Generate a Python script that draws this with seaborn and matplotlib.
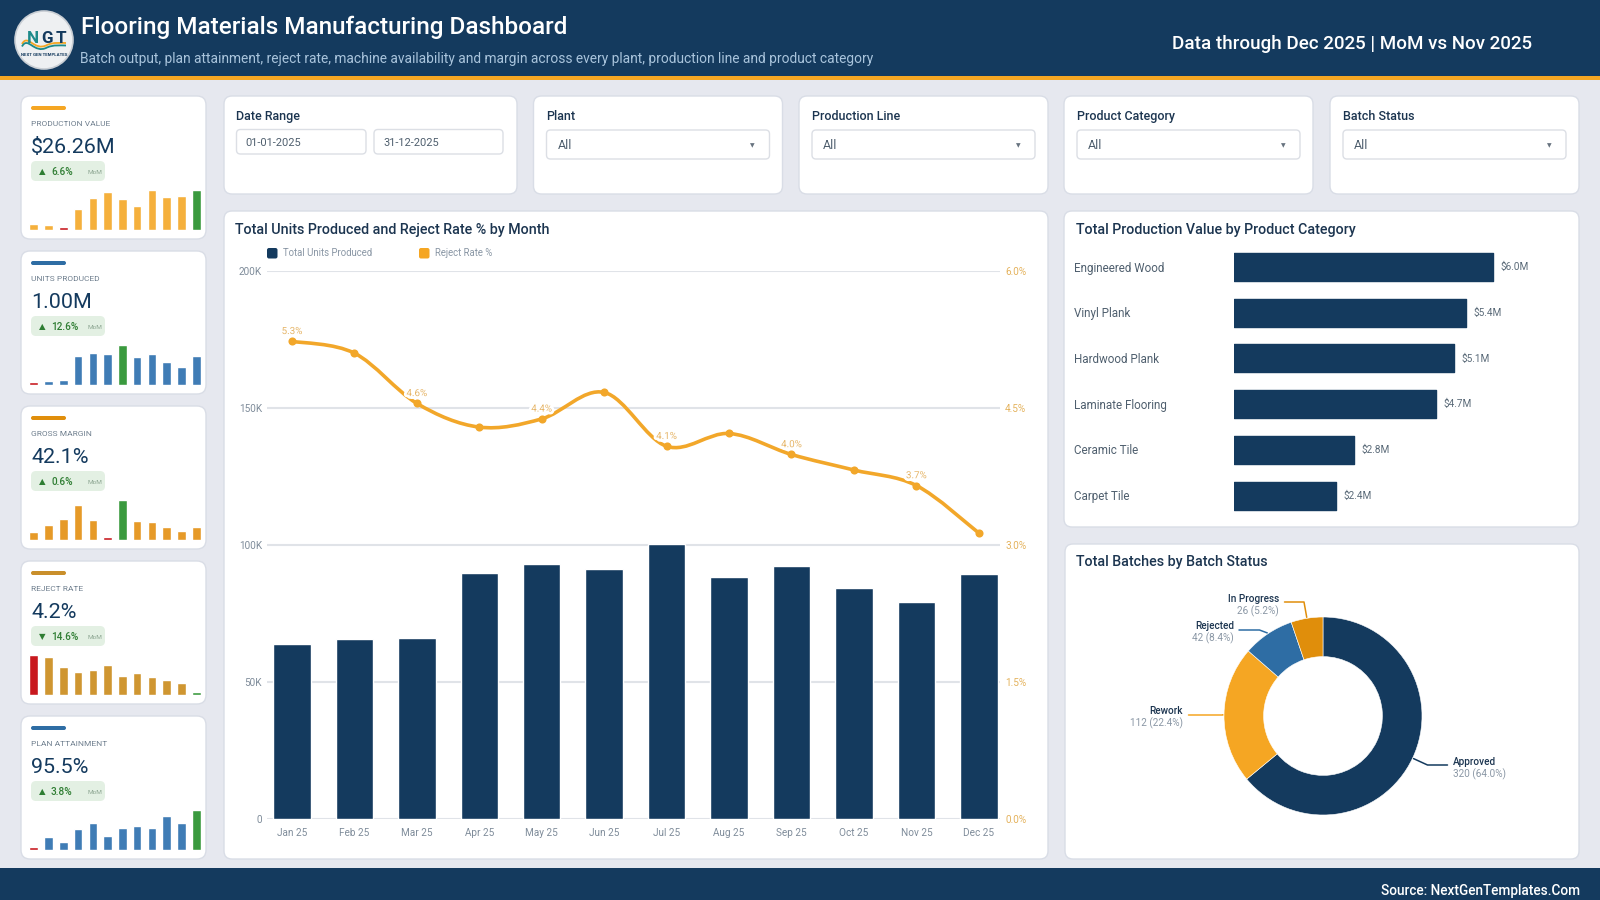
import numpy as np
import pandas as pd
import matplotlib
matplotlib.use("Agg")
import matplotlib.pyplot as plt
import seaborn as sns
from matplotlib.patches import FancyBboxPatch, Circle, PathPatch, Rectangle
from matplotlib.path import Path
import matplotlib.patheffects as pe

# data
months = ["Jan 25", "Feb 25", "Mar 25", "Apr 25", "May 25", "Jun 25", "Jul 25", "Aug 25", "Sep 25", "Oct 25", "Nov 25", "Dec 25"]
units = [63800, 65700, 66000, 89900, 92900, 91000, 100400, 88400, 92200, 84200, 79200, 89200]
reject = [5.23, 5.10, 4.55, 4.29, 4.38, 4.67, 4.08, 4.22, 3.99, 3.82, 3.65, 3.13]
reject_labels = ["5.3%", "", "4.6%", "", "4.4%", "", "4.1%", "", "4.0%", "", "3.7%", ""]
left_ticks = [0, 50000, 100000, 150000, 200000]
left_labels = ["0", "50K", "100K", "150K", "200K"]
right_ticks = [0, 1.5, 3.0, 4.5, 6.0]
right_labels = ["0.0%", "1.5%", "3.0%", "4.5%", "6.0%"]

categories = ["Engineered Wood", "Vinyl Plank", "Hardwood Plank", "Laminate Flooring", "Ceramic Tile", "Carpet Tile"]
cat_values = [5.99, 5.36, 5.08, 4.67, 2.78, 2.35]
cat_labels = ["$6.0M", "$5.4M", "$5.1M", "$4.7M", "$2.8M", "$2.4M"]

status = ["Approved", "Rework", "Rejected", "In Progress"]
status_counts = [320, 112, 42, 26]
status_text = ["320 (64.0%)", "112 (22.4%)", "42 (8.4%)", "26 (5.2%)"]

kpi_names = ["PRODUCTION VALUE", "UNITS PRODUCED", "GROSS MARGIN", "REJECT RATE", "PLAN ATTAINMENT"]
kpi_values = ["$26.26M", "1.00M", "42.1%", "4.2%", "95.5%"]
kpi_delta = ["6.6%", "12.6%", "0.6%", "14.6%", "3.8%"]
kpi_arrow = ["▲", "▲", "▲", "▼", "▲"]
spark_value = [19, 14, 9, 63, 97, 115, 94, 72, 119, 98, 102, 120]
spark_units = [9, 13, 15, 88, 97, 92, 120, 83, 94, 70, 54, 86]
spark_margin = [25, 46, 64, 105, 59, 9, 120, 57, 53, 40, 26, 38]
spark_reject = [120, 113, 83, 69, 75, 90, 58, 65, 54, 45, 35, 9]
spark_plan = [9, 38, 23, 64, 80, 41, 65, 73, 66, 103, 82, 120]
sparks = [spark_value, spark_units, spark_margin, spark_reject, spark_plan]

filter_names = ["Plant", "Production Line", "Product Category", "Batch Status"]

NAVY = "#143a5e"
ORANGE = "#f5a623"
BLUE = "#2e6da4"
AMBER = "#e08e0b"
BRONZE = "#c98f2b"
RED = "#c8181e"
GREEN = "#3a9a3e"
BG = "#e6e8ef"
EDGE = "#d9dde6"
TITLE = "#1c3550"
GREY = "#7f8c9a"

W, H = 1600, 900
FONT = ["Roboto", "DejaVu Sans"]
SEMI = 500

sns.set_theme(style="white")
plt.rcParams["font.family"] = FONT

fig = plt.figure(figsize=(16, 9), dpi=100, facecolor=BG)
bg = fig.add_axes([0, 0, 1, 1], zorder=0)
bg.set_xlim(0, W)
bg.set_ylim(H, 0)
bg.axis("off")


def px_axes(x0, y0, x1, y1, zorder=2):
    ax = fig.add_axes([x0 / W, 1 - y1 / H, (x1 - x0) / W, (y1 - y0) / H], zorder=zorder)
    ax.patch.set_alpha(0)
    return ax


def txt(x, y, s, size, color=TITLE, weight="normal", ha="left", **kw):
    # y is the middle of the capitals, drawn from the baseline so descenders do not shift it
    return bg.text(x, y + 0.355 * size, s, fontsize=size * 0.72, color=color, fontweight=weight, ha=ha, va="baseline", **kw)


def box(x0, y0, x1, y1, r=8, fc="white", ec=EDGE, lw=1.0, z=1):
    p = FancyBboxPatch((x0, y0), x1 - x0, y1 - y0, boxstyle=f"round,pad=0,rounding_size={r}",
                       fc=fc, ec=ec, lw=lw, zorder=z)
    bg.add_patch(p)


# header and footer
bg.add_patch(Rectangle((0, 0), W, 76, fc=NAVY, ec="none"))
bg.add_patch(Rectangle((0, 76), W, 4, fc=ORANGE, ec="none"))
bg.add_patch(Rectangle((0, 868), W, 32, fc=NAVY, ec="none"))
txt(81, 25, "Flooring Materials Manufacturing Dashboard", 24.3, "white", SEMI)
txt(80.5, 58.5, "Batch output, plan attainment, reject rate, machine availability and margin across every plant, production line and product category", 13.8, "#a9c4dc")
txt(1532, 42, "Data through Dec 2025 | MoM vs Nov 2025", 18.8, "white", SEMI, ha="right")
txt(1580, 890, "Source: NextGenTemplates.Com", 13.6, "white", SEMI, ha="right")

# logo
bg.add_patch(Circle((44, 40), 29, fc="#eef0f2", ec="#c9ced4", lw=1.2, zorder=2))
for col, y0 in [(ORANGE, 47), ("#1d8a8a", 49.5)]:
    verts = [(22, y0 - 3), (28, y0 - 14), (34, y0 + 5), (47, y0 - 2), (54, y0 - 5), (60, y0 - 4), (66, y0 - 4)]
    codes = [Path.MOVETO] + [Path.CURVE4] * 6
    bg.add_patch(PathPatch(Path(verts, codes), fc="none", ec=col, lw=1.3, zorder=3))
txt(32.5, 37, "N", 17, "#1d8a8a", "bold", ha="center", zorder=4)
txt(46.5, 37, "G", 17, NAVY, "bold", ha="center", zorder=4)
txt(61, 37, "T", 17, NAVY, "bold", ha="center", zorder=4)
txt(44.5, 54, "NEXT GEN TEMPLATES", 4.4, NAVY, "bold", ha="center", zorder=4)

# filter cards
box(224, 96, 517, 194)
txt(236.5, 116, "Date Range", 12.5, TITLE, SEMI)
box(236.5, 129.5, 366, 154, r=4, ec="#dcdfe5", lw=1.0)
box(374, 129.5, 503, 154, r=4, ec="#dcdfe5", lw=1.0)
txt(245, 142, "01-01-2025", 11, "#4f5f6e")
txt(383, 142, "31-12-2025", 11, "#4f5f6e")
filter_cards = [(533.5, 782.5), (799, 1048), (1064, 1313), (1330, 1579)]
for name, (c0, c1) in zip(filter_names, filter_cards):
    box(c0, 96, c1, 194)
    txt(c0 + 13, 116, name, 12.5, TITLE, SEMI)
    box(c0 + 13, 130, c1 - 13, 159, r=4, ec="#dcdfe5", lw=1.0)
    txt(c0 + 24, 145, "All", 12.5, "#4f5f6e")
    txt(c1 - 30, 145, "▼", 6, "#66727e", ha="center")

# kpi cards
kpi_tops = [96, 251, 406, 561, 716]
accents = [ORANGE, BLUE, AMBER, BRONZE, BLUE]
bar_cols = ["#f5b03c", "#3f7cb5", "#e69a28", "#cf9631", "#3f7cb5"]
for i, top in enumerate(kpi_tops):
    box(21, top, 206, top + 143, r=9)
    box(31, top + 10, 66, top + 14, r=2, fc=accents[i], ec="none", lw=0)
    txt(31, top + 27, kpi_names[i], 8.4, "#6f7f8e")
    txt(31, top + 49.5, kpi_values[i], 21.5, NAVY)
    box(31, top + 65, 105, top + 85, r=5, fc="#e3f0e3", ec="none", lw=0)
    txt(42, top + 75, kpi_arrow[i], 8.5, "#2e7d32", ha="center")
    txt(51, top + 75.5, kpi_delta[i], 10, "#2e7d32", SEMI)
    txt(88, top + 76, "MoM", 6.5, "#8fa894")
    vals = sparks[i]
    lo, hi = int(np.argmin(vals)), int(np.argmax(vals))
    pal = {m: bar_cols[i] for m in months}
    if kpi_names[i] == "REJECT RATE":
        pal[months[hi]], pal[months[lo]] = RED, GREEN
    else:
        pal[months[lo]], pal[months[hi]] = RED, GREEN
    ax = px_axes(29.3, top + 94, 200.7, top + 134)
    sns.barplot(x=months, y=vals, hue=months, palette=pal, legend=False, width=0.585, ax=ax, saturation=1)
    ax.set_xlim(-0.3, 11.3)
    ax.set_ylim(0, 120)
    ax.axis("off")

# main chart
box(224, 211, 1048, 859)
txt(235, 229, "Total Units Produced and Reject Rate % by Month", 14.2, TITLE, SEMI)
box(267, 248, 277.5, 258.5, r=2, fc=NAVY, ec="none", lw=0)
txt(283, 253, "Total Units Produced", 9.7, "#8a97a5")
box(419, 248, 429.5, 258.5, r=2, fc=ORANGE, ec="none", lw=0)
txt(435, 253, "Reject Rate %", 9.7, "#8a97a5")

ax = px_axes(267, 271, 1000, 818.7)
df = pd.DataFrame({"month": months, "units": units, "reject": reject})
sns.barplot(data=df, x="month", y="units", color=NAVY, saturation=1, width=0.6, ax=ax, zorder=3)
ax.set_xlim(-0.4, 11.34)
ax.set_ylim(0, 200000)
ax.set_yticks(left_ticks, left_labels)
ax.set_xlabel("")
ax.set_ylabel("")
ax.grid(axis="y", color="#e0e3e8", lw=1.5)
ax.grid(axis="x", visible=False)
ax.set_axisbelow(True)
sns.despine(ax=ax, left=True, bottom=True)
ax.tick_params(axis="y", length=0, pad=3.6, labelsize=10 * 0.72, labelcolor=GREY)
ax.tick_params(axis="x", length=0, pad=12.3, labelsize=10 * 0.72, labelcolor=GREY)
for lab in ax.get_xticklabels():
    lab.set_va("baseline")

ax2 = ax.twinx()
ax2.patch.set_alpha(0)
ax2.set_ylim(0, 6)
ax2.set_yticks(right_ticks, right_labels)
ax2.tick_params(axis="y", length=0, pad=3.6, labelsize=10 * 0.72, labelcolor="#e4b25c")
ax2.grid(False)
sns.despine(ax=ax2, left=True, bottom=True, right=True)

# smooth curve through the monthly values, drawn as beziers
xs = np.arange(len(reject), dtype=float)
ys = np.array(reject)
pts = np.column_stack([xs, ys])
verts = [pts[0]]
codes = [Path.MOVETO]
for j in range(len(pts) - 1):
    p0 = pts[max(j - 1, 0)]
    p1, p2 = pts[j], pts[j + 1]
    p3 = pts[min(j + 2, len(pts) - 1)]
    verts += [p1 + (p2 - p0) / 6, p2 - (p3 - p1) / 6, p2]
    codes += [Path.CURVE4] * 3
ax2.add_patch(PathPatch(Path(verts, codes), fc="none", ec="#f2a72a", lw=3.6 * 0.72, capstyle="round", zorder=4))
sns.scatterplot(x=xs, y=ys, color="#f2a72a", s=34, edgecolor="#f2a72a", linewidth=0, ax=ax2, zorder=5, clip_on=False)
for x, y, lab in zip(xs, ys, reject_labels):
    if lab:
        ax2.annotate(lab, (x, y), xytext=(0, 7.4), textcoords="offset points", ha="center", va="center",
                     fontsize=9.8 * 0.72, color="#e6b66a", zorder=6,
                     path_effects=[pe.withStroke(linewidth=4, foreground="white")])

# production value by category
box(1064, 211, 1579, 527)
txt(1076, 229, "Total Production Value by Product Category", 14.2, TITLE, SEMI)
axb = px_axes(1234, 243.8, 1580, 518.9)
sns.barplot(y=categories, x=cat_values, color=NAVY, saturation=1, width=0.61, orient="h", ax=axb,
            edgecolor=NAVY, linewidth=1.0)
for b in axb.patches:
    b.set_joinstyle("round")
axb.set_xlim(0, 346 / 43.3)
axb.axis("off")
for i, (v, lab) in enumerate(zip(cat_values, cat_labels)):
    axb.annotate(lab, (v, i), xytext=(5.4, 0), textcoords="offset points", va="center", fontsize=10 * 0.72, color="#5a6a78")
for cat, cy in zip(categories, 267.5 + 45.7 * np.arange(6)):
    txt(1074.5, cy, cat, 11.6, "#4f5f6e")

# batches donut
box(1065, 544, 1579, 859)
txt(1076, 561, "Total Batches by Batch Status", 14.2, TITLE, SEMI)
cx, cy, rad = 1323, 716, 99
axp = px_axes(cx - rad, cy - rad, cx + rad, cy + rad)
donut_cols = [NAVY, ORANGE, BLUE, AMBER]
axp.pie(status_counts, colors=donut_cols, startangle=90, counterclock=False, radius=1,
        wedgeprops={"width": 0.4, "edgecolor": "white", "linewidth": 0.4})
axp.set_xlim(-1, 1)
axp.set_ylim(-1, 1)

# leader elbows: (elbow, line end, text x, text y of the name, alignment)
leaders = [((1427.5, 765), (1447.5, 765), 1453, 761, "left"),
           ((1223, 715), (1188.5, 715), 1183, 710, "right"),
           ((1259.5, 630), (1239, 630), 1234, 625, "right"),
           ((1304, 602), (1284.5, 602), 1279, 598, "right")]
cum = np.cumsum([0] + status_counts) / sum(status_counts)
for i, (elbow, end, tx, ty, ha) in enumerate(leaders):
    ang = np.pi / 2 - 2 * np.pi * (cum[i] + cum[i + 1]) / 2
    sx, sy = cx + (rad + 1) * np.cos(ang), cy - (rad + 1) * np.sin(ang)
    bg.plot([sx, elbow[0], end[0]], [sy, elbow[1], end[1]], color=donut_cols[i], lw=1.1, zorder=3, solid_capstyle="round")
    txt(tx, ty, status[i], 10, TITLE, SEMI, ha=ha)
    txt(tx, ty + 12.5, status_text[i], 10, "#8a97a5", ha=ha)

bg.set_xlim(0, W)
bg.set_ylim(H, 0)
fig.savefig("out.png", dpi=100, facecolor=BG)
